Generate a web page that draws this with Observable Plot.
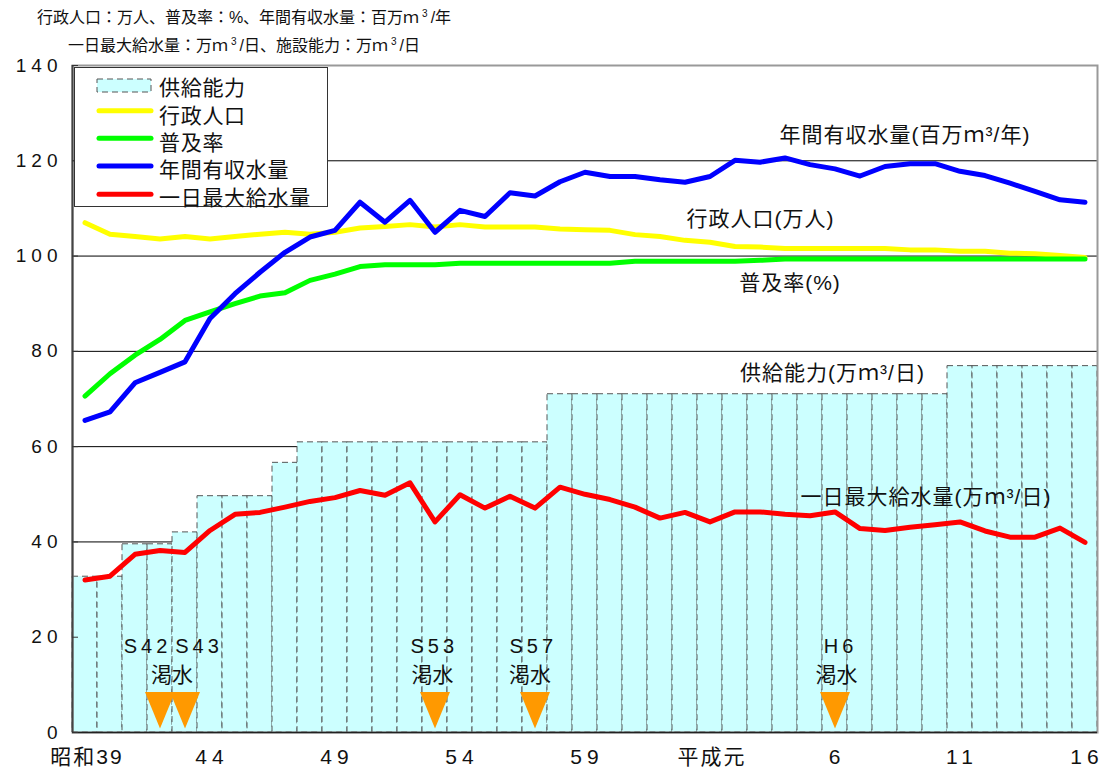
<!DOCTYPE html>
<html><head><meta charset="utf-8">
<script src="https://cdn.jsdelivr.net/npm/d3@7"></script>
<script src="https://cdn.jsdelivr.net/npm/@observablehq/plot@0.6"></script>
<style>
body{margin:0;background:#fff;font-family:"Liberation Sans","Noto Sans CJK JP",sans-serif;}
#wrap{position:relative;width:1103px;height:774px;overflow:hidden;background:#fff;}
.t{position:absolute;left:0;width:488px;text-align:center;font-size:16px;line-height:20px;color:#111;white-space:nowrap;}
.t sup{font-size:10px;vertical-align:6px;line-height:0;margin:0 3px;}
#chart{position:absolute;left:0;top:50px;}
#legend{position:absolute;left:74px;top:67px;width:252px;height:138px;background:#fff;border:1px solid #333;}
#legend svg{overflow:visible;}
</style>
</head><body>
<div id="wrap">
  <div class="t" style="top:8px">行政人口：万人、普及率：%、年間有収水量：百万ｍ<sup>3</sup>/年</div>
  <div class="t" style="top:36px">一日最大給水量：万ｍ<sup>3</sup>/日、施設能力：万ｍ<sup>3</sup>/日</div>
  <div id="chart"></div>
  <div id="legend"></div>
</div>
<script>
// ---- data ----
const years = [1964,1965,1966,1967,1968,1969,1970,1971,1972,1973,1974,1975,1976,1977,1978,1979,1980,1981,1982,1983,1984,1985,1986,1987,1988,1989,1990,1991,1992,1993,1994,1995,1996,1997,1998,1999,2000,2001,2002,2003,2004];
const capacity = [32.7,32.7,39.5,39.5,42.0,49.6,49.6,49.6,56.6,60.9,60.9,60.9,60.9,60.9,60.9,60.9,60.9,60.9,60.9,71.0,71.0,71.0,71.0,71.0,71.0,71.0,71.0,71.0,71.0,71.0,71.0,71.0,71.0,71.0,71.0,76.9,76.9,76.9,76.9,76.9,76.9];
const population = [107.0,104.6,104.1,103.6,104.1,103.6,104.1,104.6,105.0,104.6,105.0,105.9,106.2,106.6,106.1,106.6,106.1,106.1,106.1,105.7,105.5,105.4,104.5,104.1,103.3,102.9,102.0,101.9,101.6,101.6,101.6,101.6,101.6,101.3,101.3,101.0,101.0,100.6,100.5,100.1,99.7];
const coverage = [70.6,75.3,79.2,82.5,86.5,88.3,90.0,91.6,92.3,94.9,96.2,97.8,98.2,98.2,98.2,98.5,98.5,98.5,98.5,98.5,98.5,98.5,98.9,98.9,98.9,98.9,98.9,99.1,99.4,99.4,99.4,99.4,99.4,99.4,99.4,99.4,99.4,99.4,99.4,99.4,99.4];
const revenueWater = [65.5,67.3,73.4,75.6,77.8,86.9,92.1,96.6,100.8,104.0,105.4,111.3,107.1,111.7,105.0,109.6,108.3,113.3,112.6,115.6,117.6,116.7,116.7,116.0,115.5,116.7,120.1,119.7,120.6,119.2,118.3,116.8,118.8,119.4,119.4,117.8,116.9,115.3,113.6,111.8,111.3];
const maxDaily = [32.0,32.8,37.4,38.2,37.8,42.4,45.8,46.2,47.3,48.5,49.3,50.8,49.8,52.4,44.2,49.9,47.1,49.6,47.1,51.5,50.0,48.9,47.3,45.0,46.2,44.2,46.3,46.3,45.8,45.5,46.3,42.8,42.4,43.1,43.6,44.2,42.3,41.0,41.0,42.9,39.9];
const tickYears = [1964,1969,1974,1979,1984,1989,1994,1999,2004];
const tickLabels = ["昭和39","44","49","54","59","平成元","6","11","16"];
const yTicks = [0,20,40,60,80,100,120,140];
const gridValues = [20,40,60,80,100,120];
const droughtYears = [1967,1968,1978,1982,1994];
const droughtCodes = ["S42","S43","S53","S57","H6"];

const data = years.map((year, i) => ({year, capacity: capacity[i], population: population[i], coverage: coverage[i], revenueWater: revenueWater[i], maxDaily: maxDaily[i]}));
const xTicks = tickYears.map((year, i) => ({year, label: tickLabels[i]}));
const xDomain = [years[0] - 0.5, years[years.length - 1] + 0.5];

// label placement (annotation anchors in data units)
const codeLabels = droughtCodes.map((code, i) => ({code, x: [1966.42, 1968.48, 1977.89, 1981.85, 1994.14][i]}));
const kassuiLabels = [1967.48, 1977.9, 1981.8, 1994.06];
const notes = [
  {x: 1996.78, y: 125.3, text: "年間有収水量(百万ｍ³/年)"},
  {x: 1991.0, y: 107.7, text: "行政人口(万人)"},
  {x: 1992.18, y: 94.3, text: "普及率(%)"},
  {x: 1993.88, y: 75.4, text: "供給能力(万ｍ³/日)"},
  {x: 1997.62, y: 49.4, text: "一日最大給水量(万ｍ³/日)"}
];

const downTriangle = {draw(ctx, size) {
  const r = Math.sqrt(size / Math.PI), h = r * 2.44;
  ctx.moveTo(-r, -h / 2); ctx.lineTo(r, -h / 2); ctx.lineTo(0, h / 2); ctx.closePath();
}};

const FONT = '"Liberation Sans","Noto Sans CJK JP",sans-serif';
const lineOpts = {x: "year", strokeWidth: 5, strokeLinejoin: "round", strokeLinecap: "round"};

const chart = Plot.plot({
  width: 1103, height: 724,
  marginTop: 15, marginBottom: 42, marginLeft: 72, marginRight: 6,
  style: {fontFamily: FONT, background: "transparent", color: "#111", overflow: "visible"},
  x: {type: "linear", domain: xDomain, axis: null},
  y: {domain: [0, 140], axis: null, label: null},
  marks: [
    Plot.ruleY(gridValues, {stroke: "#000", strokeWidth: 1}),
    Plot.rectY(data, {x1: d => d.year - 0.5, x2: d => d.year + 0.5, y: "capacity", fill: "#ccffff", stroke: "#555", strokeWidth: 1, strokeDasharray: "6,4"}),
    Plot.frame({stroke: "#999", strokeWidth: 2}),
    Plot.lineY(data, {...lineOpts, y: "population", stroke: "#ffff00"}),
    Plot.lineY(data, {...lineOpts, y: "coverage", stroke: "#00ff00"}),
    Plot.lineY(data, {...lineOpts, y: "revenueWater", stroke: "#0000ff"}),
    Plot.lineY(data, {...lineOpts, y: "maxDaily", stroke: "#ff0000"}),
    Plot.ruleX([xDomain[0]], {stroke: "#444", strokeWidth: 2}),
    Plot.ruleY([0], {stroke: "#222", strokeWidth: 1.5}),
    Plot.axisY({ticks: yTicks, tickSize: 6, dx: 6, tickFormat: () => "", stroke: "#333", label: null}),
    Plot.text(yTicks, {y: d => d, text: d => String(d), frameAnchor: "left", textAnchor: "end", dx: -10, fontSize: 19, fill: "#111"}),
    Plot.text(xTicks, {x: "year", text: "label", frameAnchor: "bottom", dy: 31, dx: 2, fontSize: 21, fill: "#111"}),
    Plot.dot(droughtYears, {x: d => d, y: () => 4.68, symbol: downTriangle, r: 15, fill: "#ff9900", stroke: "none"}),
    Plot.text(codeLabels, {x: "x", y: () => 17.96, text: "code", dx: 2, fontSize: 20, fill: "#111"}),
    Plot.text(kassuiLabels, {x: d => d, y: () => 12.0, text: () => "渇水", fontSize: 21, fill: "#111"}),
    Plot.text(notes, {x: "x", y: "y", text: "text", dx: 0.5, fontSize: 21, fill: "#111"})
  ]
});
document.getElementById("chart").appendChild(chart);

// letter spacing as in the reference (digits and latin set wide)
const ySet = new Set(yTicks.map(String));
const xSet = new Set(tickLabels);
const cSet = new Set(droughtCodes);
const nSet = new Set(notes.map(d => d.text));
d3.select(chart).selectAll("text").each(function() {
  const t = this.textContent;
  if (ySet.has(t)) this.setAttribute("letter-spacing", "5");
  else if (xSet.has(t)) this.setAttribute("letter-spacing", /^\d+$/.test(t) ? "5" : "2");
  else if (cSet.has(t)) this.setAttribute("letter-spacing", "4");
  else if (nSet.has(t)) this.setAttribute("letter-spacing", "1");
});

// legend
const items = [
  {label: "供給能力", type: "rect"},
  {label: "行政人口", color: "#ffff00"},
  {label: "普及率", color: "#00ff00"},
  {label: "年間有収水量", color: "#0000ff"},
  {label: "一日最大給水量", color: "#ff0000"}
];
const lineYs = [17.5, 42.7, 70.3, 98, 126.3];
const textYs = [19.5, 47, 74.5, 101.5, 129];
const lg = d3.select("#legend").append("svg").attr("width", 252).attr("height", 138).style("display", "block");
items.forEach((it, i) => {
  if (it.type === "rect") {
    lg.append("rect").attr("x", 22).attr("y", 11).attr("width", 54).attr("height", 13)
      .attr("fill", "#ccffff").attr("stroke", "#555").attr("stroke-dasharray", "6,4");
  } else {
    lg.append("line").attr("x1", 24).attr("x2", 76).attr("y1", lineYs[i]).attr("y2", lineYs[i])
      .attr("stroke", it.color).attr("stroke-width", 5).attr("stroke-linecap", "round");
  }
  lg.append("text").attr("x", 84).attr("y", textYs[i]).attr("dominant-baseline", "central")
    .attr("font-size", 21).attr("letter-spacing", "0.7").attr("font-family", FONT).attr("fill", "#111").text(it.label);
});
</script>
</body></html>
